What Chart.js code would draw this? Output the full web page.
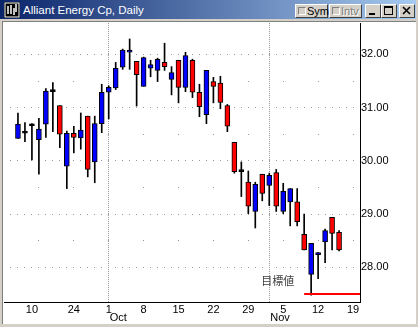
<!DOCTYPE html>
<html>
<head>
<meta charset="utf-8">
<script src="https://cdn.jsdelivr.net/npm/chart.js@4.4.1/dist/chart.umd.min.js"></script>
<style>
body{margin:0;width:418px;height:327px;background:#d4d0c8;position:relative;overflow:hidden;font-family:"Liberation Sans",Arial,sans-serif}
#titlebar{position:absolute;left:0;top:0;width:416px;height:19px;background:linear-gradient(to right,#0a246a,#a6caf0)}
#icon{position:absolute;left:4px;top:2px}
#title{position:absolute;left:23px;top:3px;font-size:11.5px;line-height:14px;color:#fff;white-space:nowrap}
.btn{position:absolute;top:4px;height:14px;box-sizing:border-box;background:#d4d0c8;border:1px solid;border-color:#fff #404040 #404040 #fff;font-size:11px;line-height:12px}
.btn svg{position:absolute;left:0;top:0}
.chk{position:absolute;left:2px;top:2px;width:8px;height:8px;box-sizing:border-box;border:1px solid;border-color:#808080 #fff #fff #808080;background:#d4d0c8}
.lbl{position:absolute;left:11px;top:0}
#panel{position:absolute;left:2px;top:21px;width:414px;height:303px;box-sizing:border-box;border-top:1px solid #808080;border-left:1px solid #808080;background:#fff}
#chart{position:absolute;left:0;top:0}
</style>
</head>
<body>
<div id="titlebar">
  <svg id="icon" width="16" height="16" viewBox="0 0 16 16">
    <rect x="0" y="0" width="16" height="16" fill="#000"/>
    <rect x="1" y="1" width="14" height="14" fill="none" stroke="#fff" stroke-width="1"/>
    <path d="M4 4v8M7 3v9M10 6v7M12 2v8" stroke="#fff" stroke-width="1.5"/>
  </svg>
  <div id="title">Alliant Energy Cp, Daily</div>
</div>
<div class="btn" style="left:295px;width:33px"><div class="chk"></div><span class="lbl">Sym</span></div>
<div class="btn" style="left:329px;width:33px"><div class="chk"></div><span class="lbl" style="color:#808080;text-shadow:1px 1px 0 #fff">Intv</span></div>
<div class="btn" style="left:365px;width:16px"><svg width="14" height="12"><rect x="3" y="8" width="6" height="2" fill="#000"/></svg></div>
<div class="btn" style="left:381px;width:16px"><svg width="14" height="12"><rect x="2.5" y="1.5" width="8" height="8" fill="none" stroke="#000"/><rect x="2" y="1" width="9" height="2" fill="#000"/></svg></div>
<div class="btn" style="left:399px;width:16px"><svg width="14" height="12"><path d="M3 2L10 9M10 2L3 9" stroke="#000" stroke-width="1.6"/></svg></div>
<div id="panel"><canvas id="chart" width="412" height="301"></canvas></div>
<script>
// trading days shown, plus empty days at both ends of the axis
const padBefore = ['9/4', '9/5'];
const days = ['9/6','9/7','9/10','9/17','9/18','9/19','9/20','9/21','9/24','9/25','9/26','9/27','9/28',
  '10/1','10/2','10/3','10/4','10/5','10/8','10/9','10/10','10/11','10/12','10/15','10/16','10/17','10/18','10/19',
  '10/22','10/23','10/24','10/25','10/26','10/29','10/30','10/31','11/1','11/2','11/5','11/6','11/7','11/8','11/9',
  '11/12','11/13','11/14','11/15'];
const padAfter = ['11/16', '11/19', '11/20'];

const open  = [30.42,30.52,30.66,30.40,30.69,31.30,31.04,29.90,30.52,30.43,30.84,29.98,30.70,
  31.29,31.37,31.76,32.04,31.87,31.40,31.74,31.70,31.85,31.53,31.89,31.38,31.89,31.29,30.87,
  31.49,31.46,31.04,30.35,29.80,29.60,29.05,29.75,29.54,29.78,29.05,29.23,29.23,28.62,27.87,
  28.24,28.48,28.94,28.66];
const high  = [30.90,30.72,30.70,30.80,31.36,31.47,31.04,30.56,30.65,30.90,30.84,30.84,31.44,
  31.41,31.85,32.10,32.29,31.87,31.95,31.89,31.93,32.21,31.77,31.89,32.04,31.91,31.44,31.70,
  31.57,31.59,31.06,30.35,29.98,29.81,29.60,29.75,29.77,29.84,29.58,29.48,29.48,29.00,28.45,
  28.28,28.72,28.94,28.69];
const low   = [30.42,30.36,30.02,29.75,30.44,30.55,30.25,29.48,30.15,30.22,29.70,29.59,30.53,
  30.79,31.34,31.72,31.72,31.03,31.40,31.58,31.49,31.70,31.24,31.09,31.30,31.19,30.83,30.70,
  31.09,30.98,30.55,29.77,29.33,29.01,28.74,29.25,29.16,29.05,29.01,28.78,28.78,28.33,27.48,
  27.79,28.09,28.33,28.31];
const close = [30.69,30.52,30.66,30.60,31.31,31.30,30.50,30.52,30.44,30.58,29.84,30.70,31.29,
  31.38,31.74,32.08,32.08,31.62,31.94,31.81,31.91,31.77,31.66,31.38,31.98,31.29,31.02,31.70,
  31.40,31.10,30.65,29.80,29.80,29.15,29.56,29.39,29.73,29.15,29.43,29.48,28.86,28.33,28.45,
  28.28,28.69,28.64,28.33];

const tickDays = ['9/10','9/24','10/1','10/8','10/15','10/22','10/29','11/5','11/12','11/19'];
const monthDays = ['10/1', '11/1'];
const monthNames = ['Oct', 'Nov'];

const target = 27.5;
const targetFrom = '11/8';
const targetTo = '11/20';
const targetText = '目標値';

const labels = padBefore.concat(days, padAfter);

let bodies = [], wicks = [], bodyColors = [];
days.forEach(function(d, i){
    bodies.push({x: d, y: [Math.min(open[i], close[i]), Math.max(open[i], close[i])]});
    wicks.push({x: d, y: [low[i], high[i]]});
    bodyColors.push(close[i] > open[i] ? '#0000ff' : (close[i] < open[i] ? '#ff0000' : '#000000'));
});

function isStep(v, step){
    return Math.abs(v / step - Math.round(v / step)) < 1e-6;
}

const extras = {
    id: 'extras',
    afterDraw(chart){
        const ctx = chart.ctx;
        const x = chart.scales.x, y = chart.scales.y;
        ctx.save();
        ctx.font = '11px "Liberation Sans", Arial, sans-serif';
        ctx.fillStyle = '#000';
        ctx.textAlign = 'left';
        ctx.textBaseline = 'top';
        monthNames.forEach(function(m, i){
            ctx.fillText(m, x.getPixelForValue(labels.indexOf(monthDays[i])) + 1, chart.chartArea.bottom + 10);
        });
        ctx.font = '11px "Noto Sans CJK JP", sans-serif';
        ctx.fillStyle = '#404040';
        ctx.textAlign = 'right';
        ctx.textBaseline = 'middle';
        ctx.fillText(targetText, x.getPixelForValue(labels.indexOf(targetFrom)) - 10, y.getPixelForValue(target) - 13);
        ctx.restore();
    }
};

new Chart(document.getElementById('chart'), {
    type: 'bar',
    data: {
        labels: labels,
        datasets: [{
            label: 'target',
            type: 'line',
            data: [{x: targetFrom, y: target}, {x: targetTo, y: target}],
            borderColor: '#ff0000',
            borderWidth: 2,
            pointRadius: 0,
            order: 0
        }, {
            label: 'body',
            data: bodies,
            backgroundColor: bodyColors,
            borderColor: '#000',
            borderWidth: 1,
            borderSkipped: false,
            barThickness: 5,
            minBarLength: 2,
            grouped: false,
            order: 1
        }, {
            label: 'wick',
            data: wicks,
            backgroundColor: '#000',
            borderWidth: 0,
            barThickness: 1,
            grouped: false,
            order: 2
        }]
    },
    plugins: [extras],
    options: {
        responsive: false,
        animation: false,
        layout: {padding: {left: 1, top: 1, right: 0, bottom: 0}},
        plugins: {legend: {display: false}, tooltip: {enabled: false}},
        scales: {
            x: {
                offset: false,
                afterFit: function(s){ s.height = 21; s.paddingLeft = 0; s.paddingRight = 0; },
                grid: {
                    offset: false,
                    drawTicks: false,
                    color: function(c){ return monthDays.includes(labels[c.index]) ? '#999' : 'rgba(0,0,0,0)'; }
                },
                border: {display: true, color: '#000', width: 1, dash: [1, 1]},
                ticks: {
                    autoSkip: false,
                    maxRotation: 0,
                    padding: 1,
                    color: '#000',
                    font: {family: '"Liberation Sans", Arial, sans-serif', size: 11},
                    callback: function(v){ return tickDays.includes(labels[v]) ? labels[v].split('/')[1] : ''; }
                }
            },
            y: {
                position: 'right',
                min: 27.35,
                max: 32.59,
                afterFit: function(s){ s.width = 55; s.paddingTop = 0; s.paddingBottom = 0; },
                grid: {
                    drawTicks: false,
                    color: function(c){ return c.tick && isStep(c.tick.value, 0.5) ? '#999' : 'rgba(0,0,0,0)'; }
                },
                border: {
                    display: true, color: '#000', width: 1,
                    dash: function(c){ return c.tick && isStep(c.tick.value, 1) ? [1, 6] : [1, 34]; },
                    dashOffset: 1
                },
                ticks: {
                    stepSize: 0.5,
                    padding: 1,
                    color: '#000',
                    font: {family: '"Liberation Sans", Arial, sans-serif', size: 11},
                    callback: function(v){ return isStep(v, 1) ? v.toFixed(2) : ''; }
                }
            }
        }
    }
});
</script>
</body>
</html>
